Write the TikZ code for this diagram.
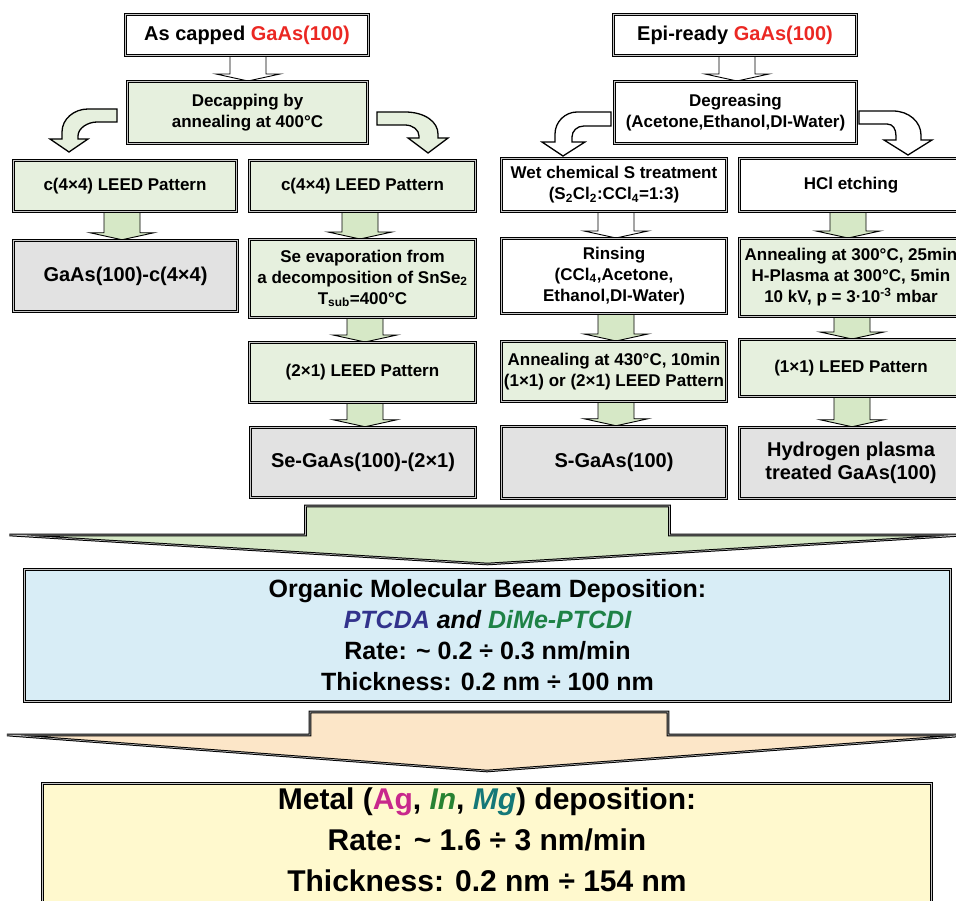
\documentclass[tikz,border=0pt]{standalone}
\usepackage{fontspec}
\setmainfont{Liberation Sans}
\usetikzlibrary{calc}
\pgfdeclarelayer{bg}
\pgfsetlayers{bg,main}
\definecolor{gaasred}{RGB}{235,40,35}
\definecolor{ptcda}{RGB}{50,50,140}
\definecolor{dime}{RGB}{30,130,70}
\definecolor{agc}{RGB}{200,40,140}
\definecolor{inc}{RGB}{40,130,50}
\definecolor{mgc}{RGB}{20,120,120}
\definecolor{boxgreen}{RGB}{230,240,222}
\definecolor{boxgray}{RGB}{226,226,226}
\definecolor{boxblue}{RGB}{216,237,246}
\definecolor{boxyellow}{RGB}{255,249,206}
\definecolor{arrgreen}{RGB}{214,232,198}
\definecolor{arrpeach}{RGB}{252,230,200}
\newcommand\downarr[4]{%
  \path[smallarr,fill=#4] let \p1=(#1.south), \p2=(#2.north) in
    (#3pt-18pt,\y1) -- (#3pt-18pt,\y2+7pt) -- (#3pt-32pt,\y2+7pt) -- (#3pt,\y2)
    -- (#3pt+32pt,\y2+7pt) -- (#3pt+18pt,\y2+7pt) -- (#3pt+18pt,\y1) -- cycle;}
\begin{document}
\begin{tikzpicture}[x=1pt,y=-1pt,
  bx/.style={draw=black, line width=1pt, double=gray!45, double distance=0.8pt,
    inner sep=0pt, align=center},
  bxthick/.style={bx, line width=1.5pt},
  sfont/.style={font=\bfseries\fontsize{17}{21}\selectfont},
  tfont/.style={font=\bfseries\fontsize{20}{23.5}\selectfont},
  smallarr/.style={draw=black, line width=0.9pt, line join=miter},
  bentarr/.style={draw=black, line width=1.3pt, line join=miter},
  bigarr/.style={draw=black, line width=1pt, double=gray!50, double distance=0.6pt}]
\useasboundingbox (0,0) rectangle (956,901);
\begin{pgfonlayer}{bg}
\fill[white] (0,0) rectangle (956,901);
\end{pgfonlayer}

% top row
\node[bx, fill=white, tfont, minimum width=243pt, minimum height=41pt] (A) at (247,35) {As capped \textcolor{gaasred}{GaAs(100)}};
\node[bx, fill=white, tfont, minimum width=243pt, minimum height=41pt] (B) at (735,35) {Epi-ready \textcolor{gaasred}{GaAs(100)}};
\node[bx, fill=boxgreen, sfont, minimum width=240pt, minimum height=62pt] (C) at (247.5,112.5) {Decapping by\\annealing at 400°C};
\node[bx, fill=white, sfont, minimum width=242pt, minimum height=62pt] (D) at (735.5,112.5) {Degreasing\\(Acetone,Ethanol,DI-Water)};

% second row
\node[bx, fill=boxgreen, sfont, minimum width=223pt, minimum height=51pt] (E) at (125,186) {c(4×4) LEED Pattern};
\node[bx, fill=boxgreen, sfont, minimum width=226pt, minimum height=51pt] (F) at (362.5,186) {c(4×4) LEED Pattern};
\node[bx, fill=white, sfont, minimum width=225pt, minimum height=53pt] (G) at (614,185) {Wet chemical S treatment\\(S\textsubscript{2}Cl\textsubscript{2}:CCl\textsubscript{4}=1:3)};
\node[bx, fill=white, sfont, minimum width=223pt, minimum height=53pt] (H) at (851,185) {HCl etching};

% third row
\node[bxthick, fill=boxgray, tfont, minimum width=224pt, minimum height=71pt] (I) at (125.5,276) {GaAs(100)-c(4×4)};
\node[bx, fill=boxgreen, sfont, minimum width=226pt, minimum height=78pt] (J) at (362.5,278.5) {Se evaporation from\\a decomposition of SnSe\textsubscript{2}\\T\textsubscript{sub}=400°C};
\node[bx, fill=white, sfont, minimum width=225pt, minimum height=75pt] (K) at (614,276) {Rinsing\\(CCl\textsubscript{4},Acetone,\\Ethanol,DI-Water)};
\node[bx, fill=boxgreen, sfont, minimum width=223pt, minimum height=78pt] (L) at (851,277.5) {Annealing at 300°C, 25min\\H-Plasma at 300°C, 5min\\10 kV, p = 3·10\textsuperscript{-3} mbar};

% fourth row
\node[bx, fill=boxgreen, sfont, minimum width=226pt, minimum height=60pt] (M) at (362.5,372.5) {(2×1) LEED Pattern};
\node[bx, fill=boxgreen, sfont, minimum width=225pt, minimum height=60pt] (N) at (614,371.5) {Annealing at 430°C, 10min\\(1×1) or (2×1) LEED Pattern};
\node[bx, fill=boxgreen, sfont, minimum width=223pt, minimum height=57pt] (O) at (851,368) {(1×1) LEED Pattern};

% fifth row
\node[bxthick, fill=boxgray, tfont, minimum width=225pt, minimum height=70pt] (P) at (363,462.5) {Se-GaAs(100)-(2×1)};
\node[bxthick, fill=boxgray, tfont, minimum width=225pt, minimum height=72pt] (Q) at (614,462.5) {S-GaAs(100)};
\node[bxthick, fill=boxgray, tfont, minimum width=223pt, minimum height=71pt] (R) at (851,463) {Hydrogen plasma\\treated GaAs(100)};

% big boxes
\node[bx, fill=boxblue, font=\bfseries\fontsize{25}{31}\selectfont, minimum width=926pt, minimum height=132pt] (S) at (487.5,635.5)
  {Organic Molecular Beam Deposition:\\\textit{\textcolor{ptcda}{PTCDA} and \textcolor{dime}{DiMe-PTCDI}}\\Rate: \textasciitilde{} 0.2 ÷ 0.3 nm/min\\Thickness: 0.2 nm ÷ 100 nm};
\node[bx, fill=boxyellow, minimum width=889pt, minimum height=121pt] (T) at (487,844) {};
\node[font=\bfseries\fontsize{30}{41}\selectfont, align=center, inner sep=0pt] (Ttext) at (487,840)
  {Metal (\textcolor{agc}{Ag}, \textit{\textcolor{inc}{In}}, \textit{\textcolor{mgc}{Mg}}) deposition:\\Rate: \textasciitilde{} 1.6 ÷ 3 nm/min\\Thickness: 0.2 nm ÷ 154 nm};

\coordinate (b1top) at (487,506);
\coordinate (b2top) at (489,712);

\begin{pgfonlayer}{bg}
% small block arrows
\downarr{A}{C}{248}{white}
\downarr{B}{D}{737}{white}
\downarr{E}{I}{122}{arrgreen}
\downarr{F}{J}{360}{arrgreen}
\downarr{G}{K}{616}{white}
\downarr{H}{L}{848}{arrgreen}
\downarr{J}{M}{365}{arrgreen}
\downarr{K}{N}{616}{arrgreen}
\downarr{L}{O}{852}{arrgreen}
\downarr{M}{P}{365}{arrgreen}
\downarr{N}{Q}{616}{arrgreen}
\downarr{O}{R}{852}{arrgreen}
% bent arrows
\path[bentarr, fill=boxgreen] (117,109) -- (88,109) .. controls (74,109) and (62,119) .. (62,132) -- (62,139) -- (50,139) -- (69,152) -- (88,139) -- (78,139) -- (78,136) .. controls (78,128) and (88,122) .. (97,122) -- (117,122) -- cycle;
\path[bentarr, fill=boxgreen] (377,112) -- (405,112) .. controls (425,112) and (438,122) .. (438,134) -- (438,138) -- (448,138) -- (428,153) -- (408,138) -- (419,138) -- (419,136) .. controls (419,130) and (413,125) .. (405,125) -- (377,125) -- cycle;
\path[bentarr, fill=white] (611,112) -- (577,112) .. controls (565,112) and (555,122) .. (555,134) -- (555,142) -- (542,142) -- (563,156) -- (585,142) -- (572,142) -- (572,137) .. controls (572,131) and (577,126) .. (584,126) -- (611,126) -- cycle;
\path[bentarr, fill=white] (859,111) -- (893,111) .. controls (909,111) and (921,122) .. (921,135) -- (921,140) -- (932,140) -- (908,155) -- (884,140) -- (896,140) -- (896,136) .. controls (896,129) and (893,124) .. (887,124) -- (859,124) -- cycle;
% big arrows
\draw[bigarr, fill=arrgreen] let \p1=(S.north), \p2=(b1top) in
  (\x1-182pt,\y2) -- (\x1-182pt,\y2-29pt) -- (\x1-478pt,\y2-29pt) -- (\x1,\y1+5pt)
  -- (\x1+478pt,\y2-29pt) -- (\x1+182pt,\y2-29pt) -- (\x1+182pt,\y2) -- cycle;
\draw[bigarr, fill=arrpeach] let \p1=(T.north), \p2=(b2top) in
  (\x2-179pt,\y2) -- (\x2-179pt,\y2-23pt) -- (\x2-482pt,\y2-23pt) -- (\x1,\y1+12pt)
  -- (\x2+482pt,\y2-23pt) -- (\x2+179pt,\y2-23pt) -- (\x2+179pt,\y2) -- cycle;
\end{pgfonlayer}
\end{tikzpicture}
\end{document}
